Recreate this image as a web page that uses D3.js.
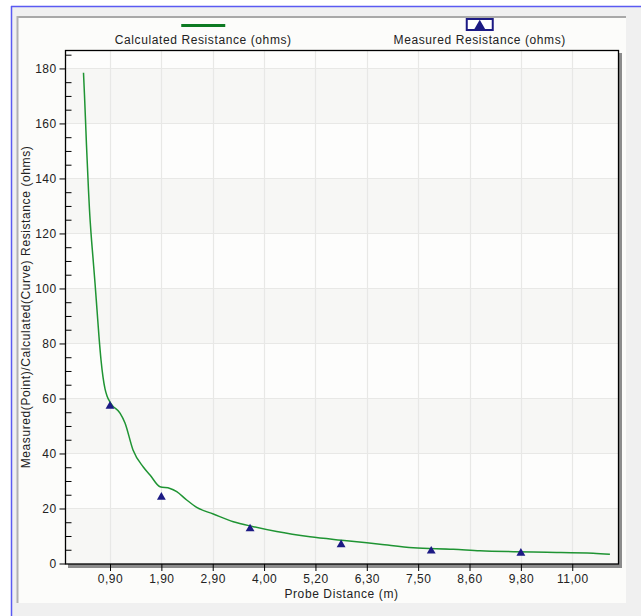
<!DOCTYPE html>
<html><head><meta charset="utf-8">
<script src="https://cdn.jsdelivr.net/npm/d3@7"></script>
<style>
html,body{margin:0;padding:0;background:#fff;}
svg text{font-family:"Liberation Sans",Arial,sans-serif;fill:#222;}
</style></head>
<body>
<svg id="c" width="641" height="616"></svg>
<script>
// ---- data ----
const xTickValues = [0.9, 1.9, 2.9, 4.0, 5.2, 6.3, 7.5, 8.6, 9.8, 11.0];
const xTickLabels = ["0,90","1,90","2,90","4,00","5,20","6,30","7,50","8,60","9,80","11,00"];
const yTicks = [0, 20, 40, 60, 80, 100, 120, 140, 160, 180];
const calcX = [0.384,0.403,0.423,0.442,0.462,0.481,0.501,0.530,0.569,0.608,0.647,0.686,0.725,0.764,0.803,0.842,0.9,0.939,1.095,1.192,1.348,1.548,1.679,1.874,2.068,2.199,2.393,2.588,2.912,3.341,3.769,4.295,5.073,5.87,6.608,7.386,8.253,8.845,9.623,10.403,11.49,11.88];
const calcY = [178.4,170.4,161.3,152.2,143.8,135.8,128.5,120.2,111.1,102.0,92.2,82.4,74.0,67.8,63.5,60.9,58.7,57.6,54.7,51.1,41.3,35.1,32.2,27.9,27.3,26.1,23.1,20.4,18.0,15.2,13.4,11.6,9.7,8.3,7.0,5.7,5.2,4.65,4.3,4.07,3.7,3.35];
const measX = [0.9, 1.9, 3.7, 5.75, 7.78, 9.8];
const measY = [57.6, 24.5, 13.0, 7.2, 4.9, 4.1];
const seriesNames = ["Calculated Resistance (ohms)", "Measured Resistance (ohms)"];
const xTitle = "Probe Distance (m)";
const yTitle = "Measured(Point)/Calculated(Curve) Resistance (ohms)";

// ---- layout ----
const svg = d3.select("#c");
const L = 65, R = 618, T = 50, B = 564;
const tickStart = 45, tickStep = 51.36;
const yMax = 186.7;
const LS = "0.6px";

// frame / panel
svg.append("rect").attr("x",11).attr("y",6).attr("width",630).attr("height",610).attr("fill","#f0f0f0");
svg.append("line").attr("x1",11.5).attr("x2",11.5).attr("y1",6).attr("y2",616).attr("stroke","#5a5af2").attr("stroke-width",1.5);
svg.append("line").attr("x1",11).attr("x2",641).attr("y1",6.5).attr("y2",6.5).attr("stroke","#5a5af2").attr("stroke-width",1.5);
svg.append("rect").attr("x",17).attr("y",16).attr("width",609).attr("height",587).attr("fill","#fcfcfa");
svg.append("line").attr("x1",17).attr("x2",626).attr("y1",17).attr("y2",17).attr("stroke","#a8a8a8").attr("stroke-width",2);
svg.append("line").attr("x1",17.5).attr("x2",17.5).attr("y1",16).attr("y2",603).attr("stroke","#b0b0b0").attr("stroke-width",2);

// scales
const x = d3.scaleLinear().domain(xTickValues).range(xTickValues.map((d,i)=>L + tickStart + i*tickStep));
const y = d3.scaleLinear().domain([0, yMax]).range([563.5, T]);

// shadow + plot bg
svg.append("rect").attr("x",L+3).attr("y",T+3).attr("width",R-L+1).attr("height",B-T+1).attr("fill","#8c8c8c");
svg.append("rect").attr("x",L).attr("y",T).attr("width",R-L).attr("height",B-T).attr("fill","#fdfdfc");

// alternating bands
const bandEdges = yTicks.concat([yMax]);
const g = svg.append("g");
for (let i = 0; i < bandEdges.length - 1; i++) {
  if (i % 2 === 0) {
    g.append("rect").attr("x",L).attr("width",R-L)
      .attr("y",y(bandEdges[i+1])).attr("height",y(bandEdges[i]) - y(bandEdges[i+1]))
      .attr("fill","#f7f7f5");
  }
}
// gridlines
g.selectAll(".hg").data(yTicks.slice(1)).enter().append("line")
  .attr("x1",L).attr("x2",R).attr("y1",d=>Math.round(y(d))+0.5).attr("y2",d=>Math.round(y(d))+0.5)
  .attr("stroke","#e8e8e6").attr("stroke-width",1.2);
g.selectAll(".vg").data(xTickValues).enter().append("line")
  .attr("y1",T).attr("y2",B).attr("x1",d=>Math.round(x(d))+0.5).attr("x2",d=>Math.round(x(d))+0.5)
  .attr("stroke","#e8e8e6").attr("stroke-width",1.2);

// curve
const calc = calcX.map((d,i)=>[d, calcY[i]]);
svg.append("path").datum(calc)
  .attr("d", d3.line().x(d=>x(d[0])).y(d=>y(d[1])).curve(d3.curveMonotoneX))
  .attr("fill","none").attr("stroke","#1f9433").attr("stroke-width",1.5);

// measured triangles
const meas = measX.map((d,i)=>[d, measY[i]]);
const tri = d3.symbol(d3.symbolTriangle, 34);
svg.selectAll(".m").data(meas).enter().append("path")
  .attr("d", tri).attr("transform", d=>`translate(${x(d[0])},${y(d[1])+1})`)
  .attr("fill","#1c1a84");

// frame
svg.append("rect").attr("x",L+0.5).attr("y",T+0.5).attr("width",R-L).attr("height",B-T-0.5)
  .attr("fill","none").attr("stroke","#000").attr("stroke-width",1.3);

// y axis
const yAxis = d3.axisLeft(y).tickValues(yTicks).tickSize(6).tickPadding(3).tickFormat(d3.format("d"));
const ya = svg.append("g").attr("transform",`translate(${L+0.5},0)`).call(yAxis);
ya.select(".domain").remove();
ya.selectAll("text").style("font-size","12px").style("letter-spacing","0.4px").attr("fill","#222");
ya.selectAll("line").attr("stroke","#000");
const minor = d3.range(5, 186, 5).filter(v=>v%20!==0);
const ym = d3.axisRight(y).tickValues(minor).tickSize(6).tickFormat("");
const yma = svg.append("g").attr("transform",`translate(${L+0.5},0)`).call(ym);
yma.select(".domain").remove();
yma.selectAll("line").attr("stroke","#000");

// x axis
const xAxis = d3.axisBottom(x).tickValues(xTickValues).tickSize(7).tickPadding(3)
  .tickFormat((d,i)=>xTickLabels[i]);
const xa = svg.append("g").attr("transform",`translate(0,${B})`).call(xAxis);
xa.select(".domain").remove();
xa.selectAll("text").style("font-size","12px").style("letter-spacing","0.5px").attr("fill","#222");
xa.selectAll("line").attr("stroke","#000");

// titles
svg.append("text").attr("x",(L+R)/2).attr("y",598).attr("text-anchor","middle")
  .style("font-size","12px").style("letter-spacing",LS).text(xTitle);
svg.append("text").attr("transform",`translate(30,${(T+B)/2}) rotate(-90)`).attr("text-anchor","middle")
  .style("font-size","12px").style("letter-spacing",LS).text(yTitle);

// legend
const lc1 = L + (R-L)*0.25, lc2 = L + (R-L)*0.75;
svg.append("line").attr("x1",lc1-22).attr("x2",lc1+22).attr("y1",25.5).attr("y2",25.5)
  .attr("stroke","#0d7a22").attr("stroke-width",3);
svg.append("text").attr("x",lc1).attr("y",44).attr("text-anchor","middle").style("font-size","12px").style("letter-spacing",LS).text(seriesNames[0]);
svg.append("rect").attr("x",lc2-13).attr("y",19).attr("width",26).attr("height",11)
  .attr("fill","#fff").attr("stroke","#1c1a84").attr("stroke-width",2);
svg.append("path").attr("d", d3.symbol(d3.symbolTriangle, 50)).attr("transform",`translate(${lc2},${26})`).attr("fill","#1c1a84");
svg.append("text").attr("x",lc2).attr("y",44).attr("text-anchor","middle").style("font-size","12px").style("letter-spacing",LS).text(seriesNames[1]);
</script>
</body></html>
